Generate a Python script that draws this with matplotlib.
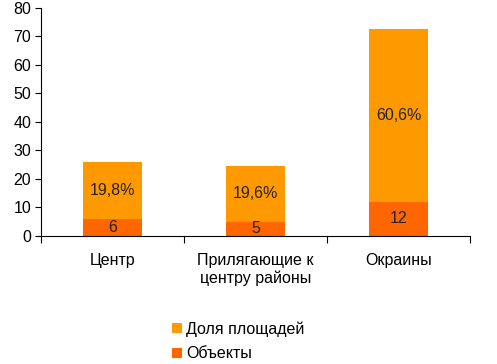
import numpy as np
import matplotlib.pyplot as plt
from matplotlib.ticker import FixedLocator

plt.rcParams['font.family'] = ['Liberation Sans', 'DejaVu Sans']

categories = ['Центр', 'Прилягающие к\nцентру районы', 'Окраины']
objects = [6, 5, 12]
area_share = [19.8, 19.6, 60.6]
object_labels = ['6', '5', '12']
share_labels = ['19,8%', '19,6%', '60,6%']

fig = plt.figure(figsize=(4.97, 3.64), dpi=100)
ax = fig.add_axes([0.0825, 0.352, 0.864, 0.626])

x = np.arange(len(categories))
w = 0.41
b1 = ax.bar(x, objects, w, color='#FF6600', label='Объекты')
b2 = ax.bar(x, area_share, w, bottom=objects, color='#FF9900', label='Доля площадей')

for i in range(len(x)):
    ax.text(x[i], objects[i] / 2, object_labels[i], ha='center', va='center', fontsize=11.5, color='#222222')
    ax.text(x[i], objects[i] + area_share[i] / 2, share_labels[i], ha='center', va='center', fontsize=11.5, color='#222222')

ax.set_xlim(-0.5, 2.5)
ax.set_ylim(0, 80)
ax.set_yticks(range(0, 81, 10))
ax.set_xticks(x)
ax.set_xticklabels(categories, fontsize=11.5, linespacing=1.25)
ax.xaxis.set_minor_locator(FixedLocator([-0.5, 0.5, 1.5, 2.5]))
ax.tick_params(axis='x', which='major', length=0, pad=12)
ax.tick_params(axis='x', which='minor', length=5, direction='out', width=0.8)
ax.tick_params(axis='y', length=4, direction='out', width=0.8, labelsize=11.5, pad=3)
for s in ['top', 'right']:
    ax.spines[s].set_visible(False)
for s in ['left', 'bottom']:
    ax.spines[s].set_linewidth(0.8)

handles = [b2, b1]
fig.legend(handles, [h.get_label() for h in handles], loc='upper left',
           bbox_to_anchor=(0.346, 0.118), frameon=False, fontsize=11.5,
           handlelength=0.65, handleheight=0.65, handletextpad=0.25, labelspacing=0.62,
           borderaxespad=0, borderpad=0)

fig.savefig('out.png', dpi=100)
